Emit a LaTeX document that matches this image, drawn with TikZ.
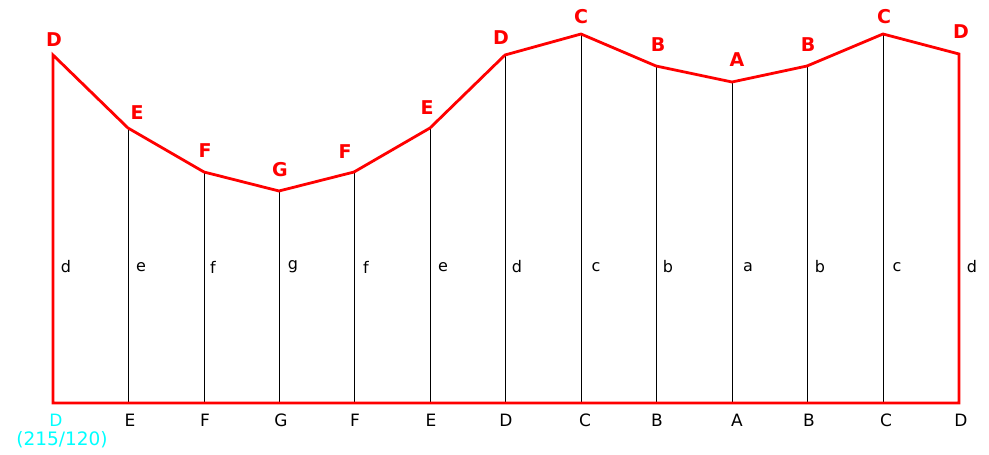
\documentclass[tikz,border=0pt]{standalone}
\usepackage{fontspec}
\setmainfont{DejaVu Sans}
\definecolor{cadcyan}{RGB}{0,255,255}
\definecolor{cadred}{RGB}{255,0,0}
\begin{document}
\begin{tikzpicture}[x=1pt,y=-1pt,
  redline/.style={draw=cadred,line width=2.8pt,line join=miter},
  thin/.style={draw=black,line width=1pt},
  toplab/.style={text=cadred,font=\fontsize{19}{19}\selectfont\bfseries,inner sep=0pt},
  botlab/.style={text=black,font=\fontsize{17}{17}\selectfont,inner sep=0pt},
  midlab/.style={text=black,font=\fontsize{16}{16}\selectfont,inner sep=0pt}]
\useasboundingbox (0,0) rectangle (989,455);
% top points
\coordinate (t1) at (53,55);
\coordinate (t2) at (128,128);
\coordinate (t3) at (204,172);
\coordinate (t4) at (279,191);
\coordinate (t5) at (354,172);
\coordinate (t6) at (430,128);
\coordinate (t7) at (505,55);
\coordinate (t8) at (581,34);
\coordinate (t9) at (656,66);
\coordinate (t10) at (732,82);
\coordinate (t11) at (807,66);
\coordinate (t12) at (883,34);
\coordinate (t13) at (959,54);
% bottom points
\foreach \i/\x in {1/53,2/128,3/204,4/279,5/354,6/430,7/505,8/581,9/656,10/732,11/807,12/883,13/959}
  \coordinate (b\i) at (\x,403);
% vertical thin lines
\foreach \i in {2,...,12}
  \draw[thin] (t\i) -- (b\i);
% red outline
\draw[redline] (b1) -- (t1) -- (t2) -- (t3) -- (t4) -- (t5) -- (t6) -- (t7) -- (t8) -- (t9) -- (t10) -- (t11) -- (t12) -- (t13) -- (b13) -- cycle;
% top labels
\node[toplab] (L1) at (54,40) {D};
\node[toplab] (L2) at (137,113) {E};
\node[toplab] (L3) at (205,151) {F};
\node[toplab] (L4) at (280,170) {G};
\node[toplab] (L5) at (345,152) {F};
\node[toplab] (L6) at (427,108) {E};
\node[toplab] (L7) at (501,38) {D};
\node[toplab] (L8) at (581,17) {C};
\node[toplab] (L9) at (658,45) {B};
\node[toplab] (L10) at (737,60) {A};
\node[toplab] (L11) at (808,45) {B};
\node[toplab] (L12) at (884,17) {C};
\node[toplab] (L13) at (961,32) {D};
% middle labels
\foreach \n/\x/\t in {m1/66/d,m2/141/e,m3/213/f,m4/293/g,m5/366/f,m6/443/e,m7/517/d,m8/596/c,m9/668/b,m10/748/a,m11/820/b,m12/897/c,m13/972/d}
  \node[midlab] (\n) at (\x,267) {\t};
% bottom labels
\node[botlab,text=cadcyan] (B1) at (56,420) {D};
\foreach \n/\x/\t in {B2/130/E,B3/205/F,B4/281/G,B5/355/F,B6/431/E,B7/506/D,B8/585/C,B9/657/B,B10/737/A,B11/809/B,B12/886/C,B13/961/D}
  \node[botlab] (\n) at (\x,420) {\t};
\node[botlab,text=cadcyan,font=\fontsize{18.5}{18.5}\selectfont] (coord) at (62,440) {(215/120)};
\end{tikzpicture}
\end{document}
